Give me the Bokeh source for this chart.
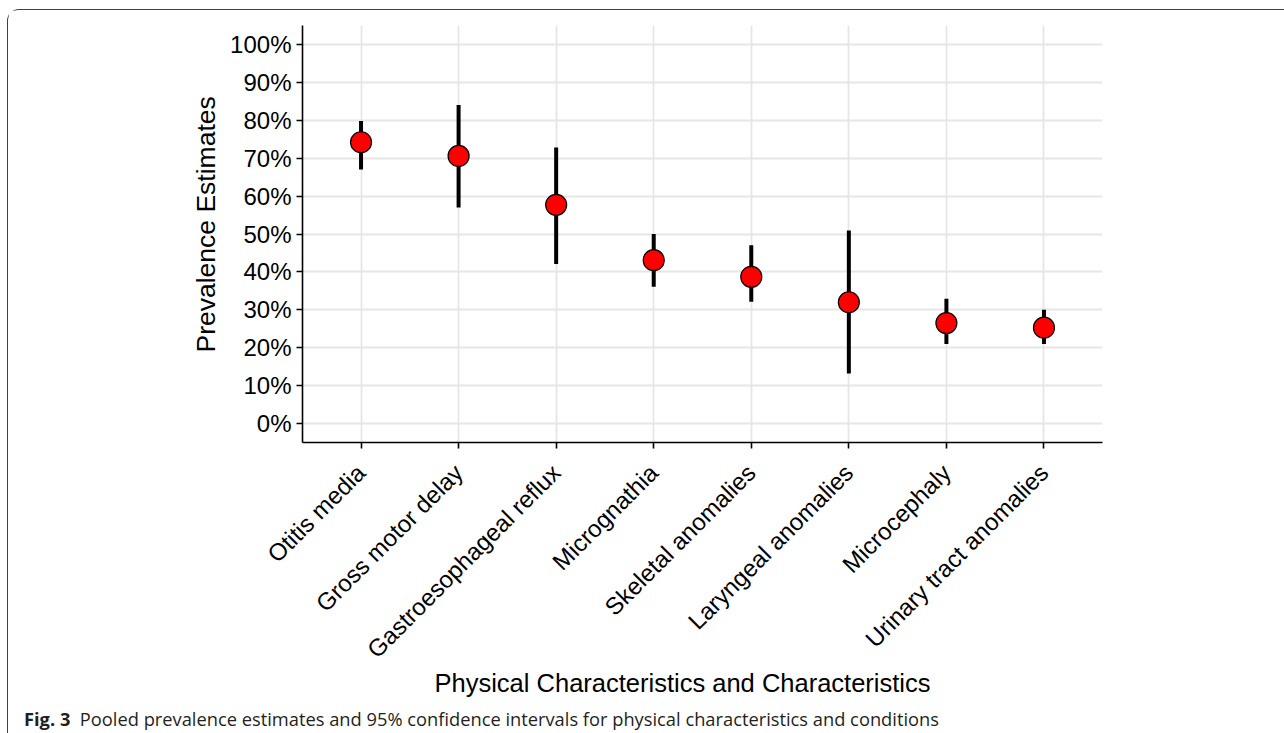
import math
from bokeh.plotting import figure
from bokeh.models import FactorRange, Range1d, FixedTicker, PrintfTickFormatter, ColumnDataSource, Div, Title
from bokeh.layouts import column
from bokeh.embed import file_html
from bokeh.resources import INLINE

categories = ["Otitis media", "Gross motor delay", "Gastroesophageal reflux", "Micrognathia",
              "Skeletal anomalies", "Laryngeal anomalies", "Microcephaly", "Urinary tract anomalies"]
estimates = [74.2, 70.6, 57.7, 43.1, 38.7, 32.0, 26.5, 25.3]
lower = [67.0, 57.0, 42.1, 36.1, 32.1, 13.2, 21.0, 21.0]
upper = [79.8, 84.0, 72.8, 50.0, 47.0, 50.9, 32.9, 30.0]
y_ticks = [0, 10, 20, 30, 40, 50, 60, 70, 80, 90, 100]

x_title = "Physical Characteristics and Characteristics"
y_title = "Prevalence Estimates"
caption_bold = "Fig. 3"
caption_text = "Pooled prevalence estimates and 95% confidence intervals for physical characteristics and conditions"

src = ColumnDataSource(dict(cat=categories, est=estimates, lo=lower, hi=upper))

FONT = "Liberation Sans"

p = figure(
    x_range=FactorRange(factors=categories, range_padding=0.1, range_padding_units="absolute"),
    y_range=Range1d(-5, 105),
    frame_width=800, frame_height=417,
    min_border_left=294, min_border_right=181, min_border_top=15, min_border_bottom=257,
    output_backend="svg", toolbar_location=None,
)
p.outline_line_color = None
p.background_fill_color = "white"
p.border_fill_color = "white"

p.segment(x0="cat", y0="lo", x1="cat", y1="hi", source=src, line_color="black", line_width=4)
p.scatter(x="cat", y="est", source=src, marker="circle", size=21,
          fill_color="#FF0000", line_color="black", line_width=1.2)

# grids
for g in (p.xgrid, p.ygrid):
    g.grid_line_color = "#E6E6E6"
    g.grid_line_width = 1.8
p.ygrid.ticker = FixedTicker(ticks=y_ticks)

# y axis
ya = p.yaxis[0]
ya.ticker = FixedTicker(ticks=y_ticks)
ya.formatter = PrintfTickFormatter(format="%d%%")
ya.major_label_text_font = FONT
ya.major_label_text_font_size = "24px"
ya.major_label_text_color = "black"
ya.major_label_standoff = 5
ya.axis_line_color = "black"
ya.axis_line_width = 1.6
ya.major_tick_line_color = "black"
ya.major_tick_line_width = 1.6
ya.major_tick_out = 6
ya.major_tick_in = 0
ya.minor_tick_line_color = None

# x axis
xa = p.xaxis[0]
xa.major_label_text_font = FONT
xa.major_label_text_font_size = "24px"
xa.major_label_text_color = "black"
xa.major_label_orientation = math.pi / 4
xa.major_label_standoff = 20
xa.axis_line_color = "black"
xa.axis_line_width = 1.6
xa.major_tick_line_color = "black"
xa.major_tick_line_width = 1.6
xa.major_tick_out = 6
xa.major_tick_in = 0

# axis titles (as titles so they can be offset like the reference)
xt = Title(text=x_title, align="left", offset=132, text_font=FONT, text_font_size="25.5px",
           text_font_style="normal", text_color="black", standoff=-18)
p.add_layout(xt, "below")
yt = Title(text=y_title, align="left", offset=90, text_font=FONT, text_font_size="26.5px",
           text_font_style="normal", text_color="black", standoff=13)
p.add_layout(yt, "left")

cap = Div(
    text=f"<b>{caption_bold}</b>&nbsp;&nbsp;{caption_text}",
    width=1275, height=24,
    styles={"font-family": "'Open Sans'", "font-size": "18.3px", "color": "#231f20",
            "padding-left": "11px", "padding-top": "2px", "white-space": "nowrap"},
)

layout = column(p, cap, margin=(9, 0, 0, 7), styles={
    "border-left": "1.5px solid #404040",
    "border-top": "1.5px solid #404040",
    "border-top-left-radius": "12px",
})

open("out.html", "w").write(file_html(layout, INLINE))
